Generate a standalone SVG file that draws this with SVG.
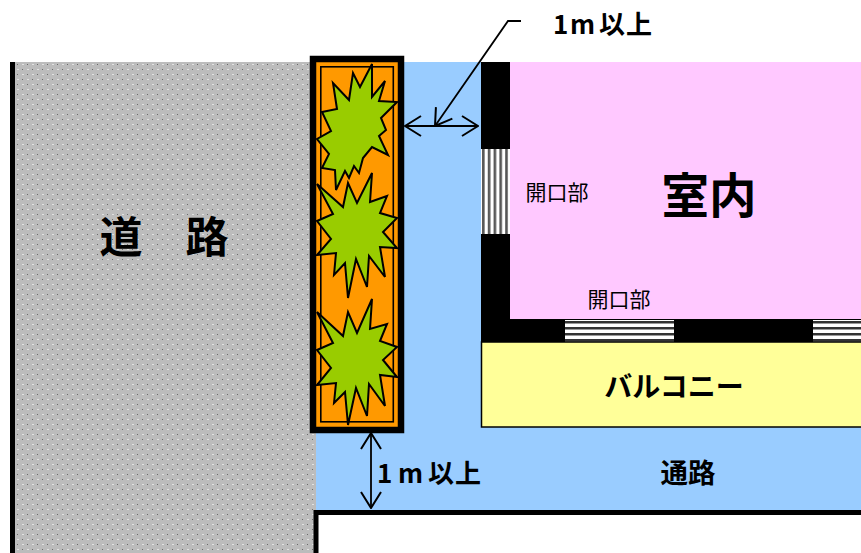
<svg xmlns="http://www.w3.org/2000/svg" width="861" height="553" viewBox="0 0 861 553">
<defs>
<pattern id="dots" width="10" height="10" patternUnits="userSpaceOnUse" x="15" y="62">
<rect width="10" height="10" fill="#bcbcbc"/>
<rect x="2" y="2" width="1" height="1" fill="#6a6a6a"/>
<rect x="7" y="7" width="1" height="1" fill="#6a6a6a"/>
<rect x="7" y="2" width="2" height="1" fill="#e2e2e2"/>
<rect x="2" y="7" width="2" height="1" fill="#e2e2e2"/>
</pattern>
<pattern id="vstripe" width="5.800" height="6" patternUnits="userSpaceOnUse" x="481" y="149">
<rect width="5.800" height="6" fill="#fff"/><rect width="2.600" height="6" x="1" fill="#555"/>
</pattern>
<pattern id="hstripe" width="6" height="6" patternUnits="userSpaceOnUse" x="565" y="319">
<rect width="6" height="6" fill="#fff"/><rect height="2.500" width="6" y="2" fill="#333"/>
</pattern>
<marker id="open" markerWidth="18" markerHeight="22" refX="17" refY="11" orient="auto-start-reverse" markerUnits="userSpaceOnUse">
<path d="M1 1L17 11L1 21" fill="none" stroke="#000" stroke-width="2"/>
</marker>
</defs>
<style>
.star{fill:#99cc00;stroke:#000;stroke-width:2}
.ln{fill:none;stroke:#000;stroke-width:1.800}
text{font-family:"Noto Sans CJK JP","Liberation Sans",sans-serif;fill:#000;text-anchor:middle}
.b{font-weight:700}
.s{text-anchor:start}
</style>
<g id="road"><rect x="10" y="62" width="306" height="491" fill="url(#dots)"/><rect x="10" y="62" width="5" height="491"/>
<text class="b" x="164" y="253" font-size="43" xml:space="preserve">道　路</text></g>
<g id="passage"><rect x="316" y="62" width="545" height="450" fill="#99ccff"/>
<text class="b" x="688" y="483" font-size="27.500">通路</text></g>
<g id="room"><rect x="510" y="62" width="351" height="258" fill="#ffc8ff"/>
<text class="b" x="709" y="213" font-size="47.500">室内</text></g>
<g id="walls"><rect x="481" y="62" width="29" height="280"/><rect x="481" y="319" width="380" height="23"/></g>
<g id="opening-left"><rect x="481" y="149" width="29" height="85" fill="url(#vstripe)"/>
<text x="557" y="200" font-size="21">開口部</text></g>
<g id="opening-bottom"><rect x="565" y="320" width="109" height="22" fill="url(#hstripe)"/><rect x="813" y="320" width="48" height="22" fill="url(#hstripe)"/>
<text x="619" y="307" font-size="21">開口部</text></g>
<g id="balcony"><rect x="481.500" y="342" width="381" height="85" fill="#ffff99" stroke="#000" stroke-width="1.500"/>
<text class="b" x="674" y="397" font-size="28">バルコニー</text></g>
<g id="lot"><rect x="316" y="512.500" width="545" height="40.500" fill="#fff"/><path d="M316 553V512.500H861" fill="none" stroke="#000" stroke-width="5"/></g>
<g id="planter"><rect x="313" y="59" width="88" height="371" fill="#ff9900" stroke="#000" stroke-width="6.500"/>
<rect x="320.800" y="66.800" width="72.500" height="355" fill="none" stroke="#000" stroke-width="1.600"/>
<polygon id="tree-1" class="star" points="372,64 372,97 385,81 379,101 397,102 381,118 386,130 379,136 388,155 372,147 363,158 359,173 354,166 349,178 345,171 336,190 335,170 322,168 329,154 317,139 331,131 322,112 337,109 333,83 349,100 353,73 360,87"/>
<polygon id="tree-2" class="star" points="317,184 343,207 348,183 357,203 372,173 370,202 387,196 380,213 397,218 383,232 397,248 380,247 385,277 369,256 367,287 356,259 348,298 345,263 334,275 336,253 317,255 331,239 317,221 333,214"/>
<polygon id="tree-3" class="star" points="317,312 343,336 348,312 357,333 372,299 370,329 387,324 380,341 397,347 383,360 397,377 380,375 385,406 369,384 367,416 356,388 348,425 345,392 334,403 336,383 317,385 331,368 317,350 333,343"/></g>
<g id="connectors">
<path class="ln" d="M405 126H478" marker-start="url(#open)" marker-end="url(#open)"/>
<path class="ln" d="M521 21H508L435 126" marker-end="url(#open)"/>
<path class="ln" d="M371 433V508" marker-start="url(#open)" marker-end="url(#open)"/>
</g>
<g id="labels"><text class="b s" x="553 570 599 626" y="34" font-size="26">1m以上</text>
<text class="b s" x="377 388 398 428 455" y="483" font-size="26" xml:space="preserve">1 m以上</text></g>
</svg>
